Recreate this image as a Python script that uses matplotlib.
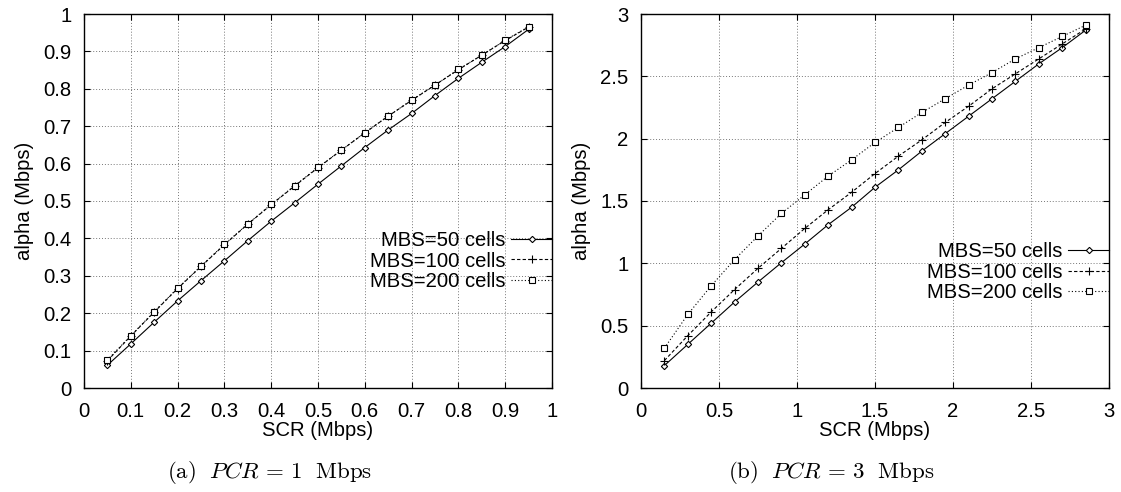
import matplotlib
matplotlib.use("Agg")
import matplotlib.pyplot as plt

plt.rcParams["font.family"] = ["Liberation Sans", "DejaVu Sans"]
plt.rcParams["mathtext.fontset"] = "cm"

# (a) PCR = 1 Mbps
scr_a = [0.05, 0.10, 0.15, 0.20, 0.25, 0.30, 0.35, 0.40, 0.45, 0.50,
         0.55, 0.60, 0.65, 0.70, 0.75, 0.80, 0.85, 0.90, 0.95]
a_mbs50 = [0.061, 0.118, 0.176, 0.233, 0.287, 0.340, 0.394, 0.446, 0.495, 0.545,
           0.594, 0.643, 0.690, 0.734, 0.782, 0.828, 0.871, 0.913, 0.959]
a_mbs100 = [0.073, 0.139, 0.203, 0.266, 0.325, 0.383, 0.438, 0.490, 0.540, 0.589,
            0.636, 0.682, 0.727, 0.769, 0.810, 0.851, 0.890, 0.929, 0.965]
a_mbs200 = [0.075, 0.140, 0.204, 0.267, 0.326, 0.384, 0.439, 0.491, 0.541, 0.590,
            0.636, 0.683, 0.727, 0.770, 0.810, 0.852, 0.890, 0.930, 0.966]

# (b) PCR = 3 Mbps
scr_b = [0.15, 0.30, 0.45, 0.60, 0.75, 0.90, 1.05, 1.20, 1.35, 1.50,
         1.65, 1.80, 1.95, 2.10, 2.25, 2.40, 2.55, 2.70, 2.85]
b_mbs50 = [0.18, 0.35, 0.52, 0.69, 0.85, 1.005, 1.155, 1.31, 1.45, 1.61,
           1.75, 1.90, 2.04, 2.18, 2.32, 2.46, 2.60, 2.73, 2.87]
b_mbs100 = [0.22, 0.42, 0.61, 0.79, 0.96, 1.12, 1.28, 1.43, 1.57, 1.72,
            1.86, 1.99, 2.13, 2.26, 2.40, 2.52, 2.64, 2.76, 2.88]
b_mbs200 = [0.32, 0.59, 0.82, 1.03, 1.22, 1.40, 1.55, 1.70, 1.83, 1.97,
            2.09, 2.21, 2.32, 2.43, 2.53, 2.64, 2.73, 2.82, 2.91]

labels = ["MBS=50 cells", "MBS=100 cells", "MBS=200 cells"]
ticks_a = [0, 0.1, 0.2, 0.3, 0.4, 0.5, 0.6, 0.7, 0.8, 0.9, 1]
ticks_b = [0, 0.5, 1, 1.5, 2, 2.5, 3]
ticklabels_a = ["0", "0.1", "0.2", "0.3", "0.4", "0.5", "0.6", "0.7", "0.8", "0.9", "1"]
ticklabels_b = ["0", "0.5", "1", "1.5", "2", "2.5", "3"]

FS = 14.6

fig = plt.figure(figsize=(11.21, 4.92), dpi=100)
ax1 = fig.add_axes([84 / 1121, 1 - 388 / 492, (552 - 84) / 1121, 374 / 492])
ax2 = fig.add_axes([641 / 1121, 1 - 388 / 492, (1109 - 641) / 1121, 374 / 492])


def draw(ax, x, ys, ticks, ticklabels, lim, leg_top):
    styles = [
        dict(ls="-", marker="D", ms=3.2, mfc="white"),
        dict(ls=(0, (3, 2)), marker="+", ms=5.5),
        dict(ls=(0, (1, 2)), marker="s", ms=5, mfc="white"),
    ]
    for y, st, lab in zip(ys, styles, labels):
        ax.plot(x, y, color="black", lw=0.8, mec="black", mew=0.8, label=lab, **st)
    ax.set_xlim(0, lim)
    ax.set_ylim(0, lim)
    ax.set_xticks(ticks)
    ax.set_yticks(ticks)
    ax.set_xticklabels(ticklabels)
    ax.set_yticklabels(ticklabels)
    ax.tick_params(axis="x", pad=10)
    ax.tick_params(axis="y", pad=9)
    ax.tick_params(direction="in", top=True, right=True, length=4, width=0.8,
                   labelsize=FS, colors="black")
    ax.grid(True, ls=(0, (1, 2)), color="#777777", lw=0.7)
    for s in ax.spines.values():
        s.set_linewidth(1.0)
    ax.set_xlabel("SCR (Mbps)", fontsize=FS, labelpad=0)
    ax.set_ylabel("alpha (Mbps)", fontsize=FS, labelpad=7)
    ax.legend(loc="upper right", bbox_to_anchor=(1.0, leg_top), frameon=False,
              markerfirst=False, fontsize=FS, handlelength=2.0, handletextpad=0.3,
              borderpad=0, borderaxespad=0, labelspacing=0.08)


draw(ax1, scr_a, [a_mbs50, a_mbs100, a_mbs200], ticks_a, ticklabels_a, 1, 0.42)
draw(ax2, scr_b, [b_mbs50, b_mbs100, b_mbs200], ticks_b, ticklabels_b, 3, 0.39)

fig.text(270 / 1121, 1 - 472 / 492, r"$\mathrm{(a)}\ \ PCR\, =\, 1\ \ \mathrm{Mbps}$",
         ha="center", va="center", fontsize=16.5)
fig.text(831 / 1121, 1 - 472 / 492, r"$\mathrm{(b)}\ \ PCR\, =\, 3\ \ \mathrm{Mbps}$",
         ha="center", va="center", fontsize=16.5)

fig.savefig("out.png", dpi=100)
